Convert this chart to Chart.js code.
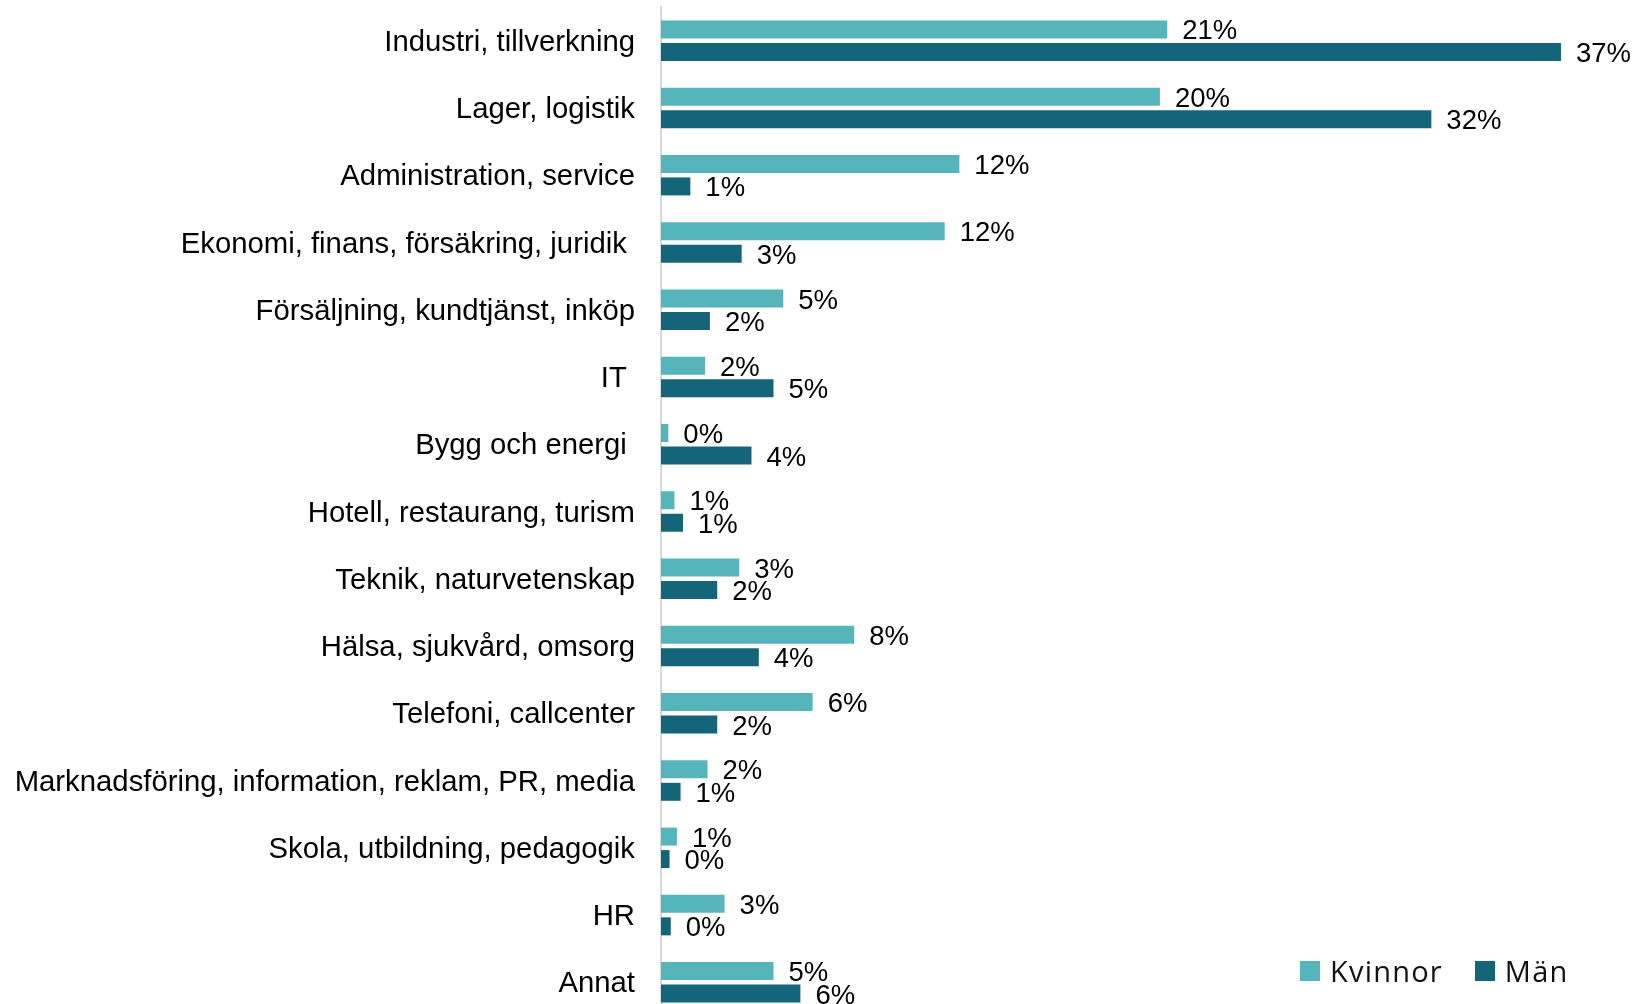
<!DOCTYPE html>
<html lang="sv">
<head>
<meta charset="utf-8">
<title>Yrkesområden – kvinnor och män</title>
<script src="https://cdn.jsdelivr.net/npm/chart.js@4.4.1/dist/chart.umd.min.js"></script>
<style>
  html, body { margin: 0; padding: 0; background: #fff; overflow: hidden; }
  #wrap { position: relative; width: 1635px; height: 1016px; }
  #legend {
    position: absolute; left: 1300px; top: 951px;
    display: flex; align-items: center;
    font-family: "Open Sans", sans-serif; font-size: 29px; letter-spacing: 1.2px; color: #111;
  }
  #legend span.box { display: inline-block; width: 20px; height: 20px; margin-right: 10px; }
  #legend span.item { display: flex; align-items: center; margin-right: 32px; }
</style>
</head>
<body>
<div id="wrap">
  <canvas id="myChart"></canvas>
  <div id="legend"></div>
</div>
<script>
const categories = [
  'Industri, tillverkning',
  'Lager, logistik',
  'Administration, service',
  'Ekonomi, finans, försäkring, juridik ',
  'Försäljning, kundtjänst, inköp',
  'IT ',
  'Bygg och energi ',
  'Hotell, restaurang, turism',
  'Teknik, naturvetenskap',
  'Hälsa, sjukvård, omsorg',
  'Telefoni, callcenter',
  'Marknadsföring, information, reklam, PR, media',
  'Skola, utbildning, pedagogik',
  'HR',
  'Annat'
];
const kvinnor = [20.7, 20.4, 12.2, 11.6, 5.0, 1.8, 0.3, 0.55, 3.2, 7.9, 6.2, 1.9, 0.65, 2.6, 4.6];
const man = [36.8, 31.5, 1.2, 3.3, 2.0, 4.6, 3.7, 0.9, 2.3, 4.0, 2.3, 0.8, 0.35, 0.4, 5.7];
const seriesNames = ['Kvinnor', 'Män'];
const seriesColors = ['#55b5ba', '#15657a'];

Chart.defaults.font.family = '"Liberation Sans", Arial, sans-serif';
Chart.defaults.color = '#000';

// percent labels right of every bar
const valueLabels = {
  id: 'valueLabels',
  afterDatasetsDraw(chart) {
    const ctx = chart.ctx;
    ctx.save();
    ctx.font = '27.5px "Liberation Sans", Arial, sans-serif';
    ctx.fillStyle = '#000';
    ctx.textAlign = 'left';
    ctx.textBaseline = 'middle';
    chart.data.datasets.forEach((ds, i) => {
      chart.getDatasetMeta(i).data.forEach((bar, j) => {
        ctx.fillText(Math.round(ds.data[j]) + '%', bar.x + 15, bar.y + 2.5);
      });
    });
    ctx.restore();
  }
};

const ctx = document.getElementById('myChart').getContext('2d');
new Chart(ctx, {
  type: 'bar',
  data: {
    labels: categories,
    datasets: [
      { label: seriesNames[0], data: kvinnor, backgroundColor: seriesColors[0] },
      { label: seriesNames[1], data: man, backgroundColor: seriesColors[1] }
    ]
  },
  options: {
    indexAxis: 'y',
    responsive: true,
    maintainAspectRatio: false,
    animation: false,
    categoryPercentage: 0.669,
    barPercentage: 0.8,
    layout: { padding: { top: 7, right: 8, bottom: 0, left: 0 } },
    plugins: {
      legend: { display: false },
      tooltip: { enabled: false }
    },
    scales: {
      x: { display: false, min: 0, max: 39.5 },
      y: {
        grid: { display: false, drawTicks: false },
        border: { display: true, color: '#d9d9d9', width: 2 },
        ticks: { padding: 26, labelOffset: 2, font: { size: 29.3 }, color: '#000' },
        afterFit(scale) {
          scale.width = 661;
          // labels should not push the plot down
          scale.paddingTop = 0;
          scale.paddingBottom = 0;
        }
      }
    }
  },
  plugins: [valueLabels]
});

// legend as plain html
const legend = document.getElementById('legend');
seriesNames.forEach((name, i) => {
  const item = document.createElement('span');
  item.className = 'item';
  item.innerHTML = '<span class="box" style="background:' + seriesColors[i] + '"></span>' + name;
  legend.appendChild(item);
});
</script>
</body>
</html>
